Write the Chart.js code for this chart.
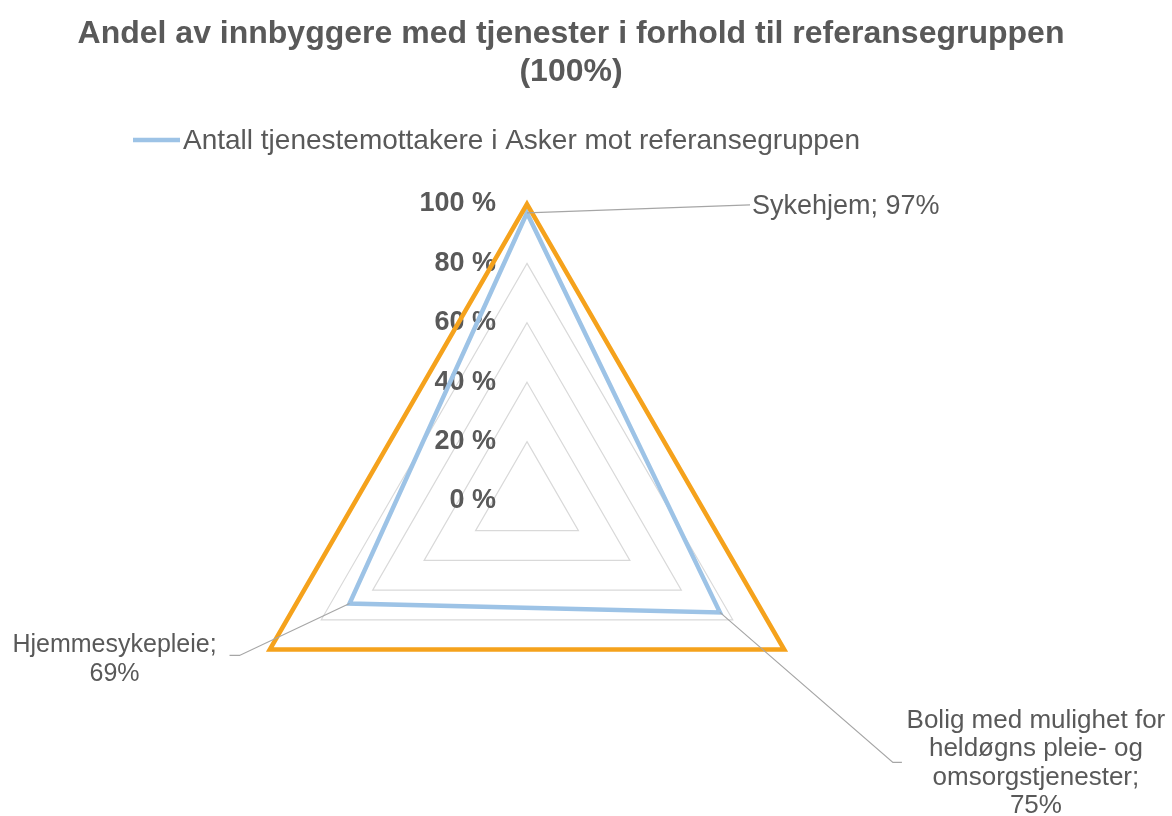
<!DOCTYPE html>
<html><head><meta charset="utf-8">
<script src="https://cdn.jsdelivr.net/npm/chart.js@4.4.1/dist/chart.umd.min.js"></script>
<style>html,body{margin:0;padding:0;background:#fff;overflow:hidden}#wrap{width:1172px;height:816px;position:relative}</style>
</head><body><div id="wrap"><canvas id="c"></canvas></div>
<script>
// ---- data ----
const categories = ['Sykehjem', 'Bolig med mulighet for heldøgns pleie- og omsorgstjenester', 'Hjemmesykepleie'];
const askerValues = [97, 75, 69];
const referenceValues = [100, 100, 100];
const tickValues = [0, 20, 40, 60, 80, 100];
const seriesName = 'Antall tjenestemottakere i Asker mot referansegruppen';
const referenceName = 'Referansegruppen';
const titleLines = ['Andel av innbyggere med tjenester i forhold til referansegruppen', '(100%)'];

// ---- styling / layout ----
const FONT = "'Liberation Sans', Arial, sans-serif";
const TEXT = '#595959';
const BLUE = '#9DC3E6';
const ORANGE = '#F5A21C';
// leader line & label placement relative to each data point (pixels)
const labelLayout = [
  {elbow: [223, -8], end: [223, -8], text: [225, -6], align: 'left', wrap: 400, valueNewLine: false, lh: 29, size: 27},
  {elbow: [173, 150], end: [182, 150], text: [316, 108], align: 'center', wrap: 275, valueNewLine: true, lh: 28.5, size: 26},
  {elbow: [-110, 52], end: [-120, 52], text: [-235, 42], align: 'center', wrap: 240, valueNewLine: true, lh: 29, size: 25}
];

function wrapText(ctx, text, maxW) {
  const words = text.split(' ');
  const lines = [];
  let cur = '';
  for (const w of words) {
    const t = cur ? cur + ' ' + w : w;
    if (cur && ctx.measureText(t).width > maxW) { lines.push(cur); cur = w; } else cur = t;
  }
  if (cur) lines.push(cur);
  return lines;
}

const extrasPlugin = {
  id: 'extras',
  beforeDatasetsDraw(chart) {
    const r = chart.scales.r;
    const ctx = chart.ctx;
    ctx.save();
    ctx.font = 'bold 27px ' + FONT;
    ctx.fillStyle = TEXT;
    ctx.textAlign = 'right';
    ctx.textBaseline = 'middle';
    for (const v of tickValues) {
      const d = r.getDistanceFromCenterForValue(v);
      ctx.fillText(v + ' %', r.xCenter - 31, r.yCenter - d);
    }
    ctx.restore();
  },
  afterDraw(chart) {
    const r = chart.scales.r;
    const ctx = chart.ctx;
    ctx.save();
    // legend
    ctx.strokeStyle = BLUE; ctx.lineWidth = 4.5;
    ctx.beginPath(); ctx.moveTo(133, 140); ctx.lineTo(180, 140); ctx.stroke();
    ctx.font = '28px ' + FONT; ctx.fillStyle = TEXT;
    ctx.textAlign = 'left'; ctx.textBaseline = 'middle';
    ctx.fillText(seriesName, 183, 141);
    // data labels with leader lines
    askerValues.forEach((v, i) => {
      const L = labelLayout[i];
      ctx.font = L.size + 'px ' + FONT;
      const p = r.getPointPosition(i, r.getDistanceFromCenterForValue(v));
      ctx.strokeStyle = '#A6A6A6'; ctx.lineWidth = 1.2;
      ctx.beginPath();
      ctx.moveTo(p.x, p.y);
      ctx.lineTo(p.x + L.elbow[0], p.y + L.elbow[1]);
      ctx.lineTo(p.x + L.end[0], p.y + L.end[1]);
      ctx.stroke();
      let lines;
      if (L.valueNewLine) { lines = wrapText(ctx, categories[i] + ';', L.wrap); lines.push(v + '%'); }
      else lines = wrapText(ctx, categories[i] + '; ' + v + '%', L.wrap);
      ctx.fillStyle = TEXT; ctx.textAlign = L.align; ctx.textBaseline = 'middle';
      lines.forEach((ln, k) => ctx.fillText(ln, p.x + L.text[0], p.y + L.text[1] + k * L.lh));
    });
    ctx.restore();
  }
};

new Chart(document.getElementById('c'), {
  type: 'radar',
  data: {
    labels: categories,
    datasets: [
      {label: seriesName, data: askerValues, borderColor: BLUE, borderWidth: 4.5, pointRadius: 0, fill: false, borderJoinStyle: 'miter', order: 1},
      {label: referenceName, data: referenceValues, borderColor: ORANGE, borderWidth: 4.5, pointRadius: 0, fill: false, borderJoinStyle: 'miter', order: 0}
    ]
  },
  options: {
    responsive: true, maintainAspectRatio: false, animation: false,
    layout: {padding: {top: 0, bottom: 18, left: 0, right: 30}},
    plugins: {
      legend: {display: false},
      tooltip: {enabled: false},
      title: {display: true, text: titleLines, color: TEXT, font: {family: FONT, size: 32, weight: 'bold', lineHeight: 38 / 32}, padding: {top: 15, bottom: 113}}
    },
    scales: {
      r: {
        min: 0, max: 100,
        ticks: {display: false, stepSize: 20},
        pointLabels: {display: false},
        angleLines: {display: false},
        grid: {color: '#D9D9D9', lineWidth: 1.2},
        afterFit(scale) { scale.xCenter -= 44; }
      }
    }
  },
  plugins: [extrasPlugin]
});
</script></body></html>
